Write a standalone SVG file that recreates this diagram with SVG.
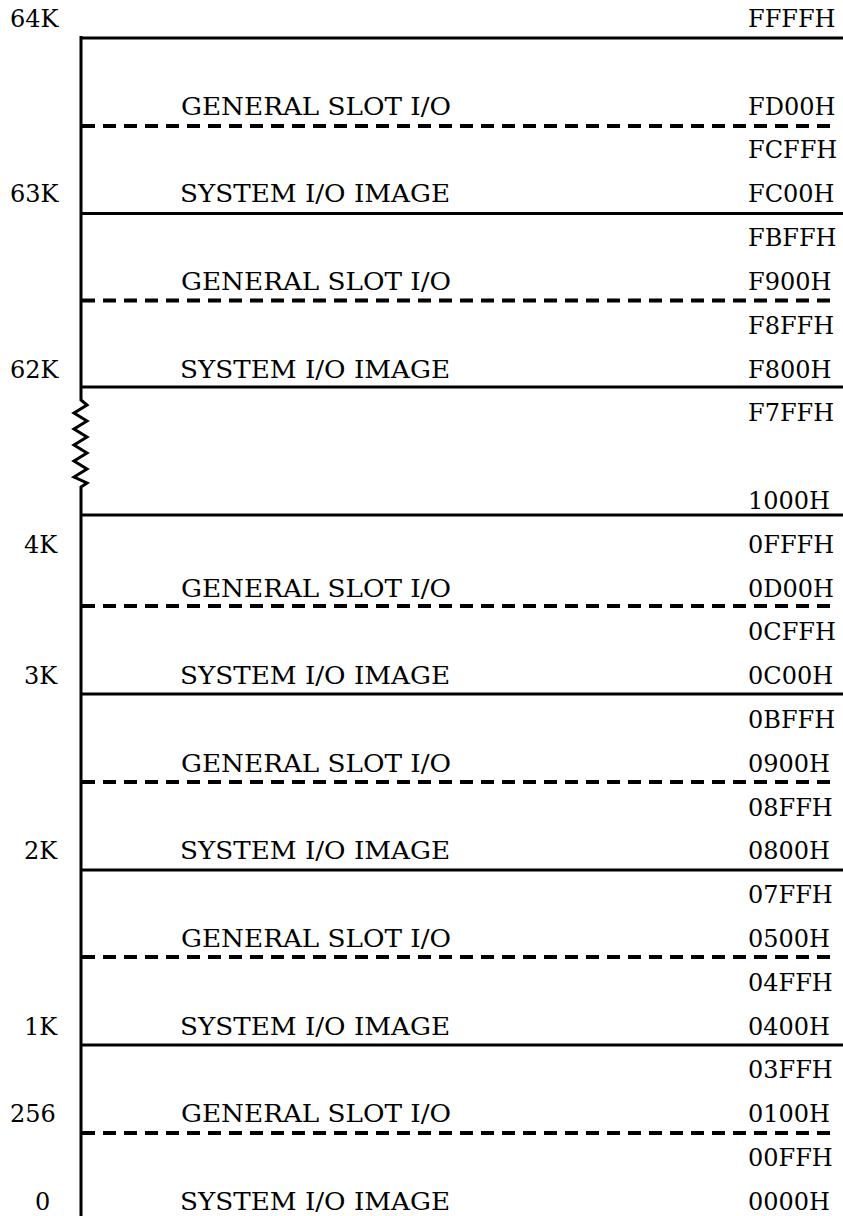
<svg xmlns="http://www.w3.org/2000/svg" width="843" height="1216" viewBox="0 0 843 1216">
<style>
text{font-family:"DejaVu Serif","Liberation Serif",serif;font-size:24px;fill:#000}
.s{stroke:#000;stroke-width:3;fill:none}
.d{stroke:#000;stroke-width:4;fill:none;stroke-dasharray:13 8}
.m{}
</style>
<rect width="843" height="1216" fill="#fff"/>
<g id="connectors">
<path class="s" d="M81,36V400L87,405L74,413L87,421L74,429L87,437L74,445L87,453L74,461L87,469L74,477L87,483L81,487V1216"/>
<path class="s" d="M80,38H843"/>
<path class="d" d="M82,126H836"/>
<path class="s" d="M80,213.5H843"/>
<path class="d" d="M82,300.5H836"/>
<path class="s" d="M80,387H843"/>
<path class="s" d="M80,515H843"/>
<path class="d" d="M82,606H836"/>
<path class="s" d="M80,694H843"/>
<path class="d" d="M82,782H836"/>
<path class="s" d="M80,870H843"/>
<path class="d" d="M82,957H836"/>
<path class="s" d="M80,1045H843"/>
<path class="d" d="M82,1133H836"/>
</g>
<g id="left-labels">
<text x="10" y="27">64K</text>
<text x="10" y="202.2">63K</text>
<text x="10" y="377.5">62K</text>
<text x="24" y="552.7">4K</text>
<text x="24" y="684.2">3K</text>
<text x="24" y="859.4">2K</text>
<text x="24" y="1034.6">1K</text>
<text x="10" y="1122.3">256</text>
<text x="35" y="1209.9">0</text>
</g>
<g id="region-fd00">
<text x="181" y="114.6" textLength="270" lengthAdjust="spacingAndGlyphs">GENERAL SLOT I/O</text>
</g>
<g id="region-fc00">
<text x="180" y="202.2" textLength="270" lengthAdjust="spacingAndGlyphs">SYSTEM I/O IMAGE</text>
</g>
<g id="region-f900">
<text x="181" y="289.9" textLength="270" lengthAdjust="spacingAndGlyphs">GENERAL SLOT I/O</text>
</g>
<g id="region-f800">
<text x="180" y="377.5" textLength="270" lengthAdjust="spacingAndGlyphs">SYSTEM I/O IMAGE</text>
</g>
<g id="region-0d00">
<text x="181" y="596.5" textLength="270" lengthAdjust="spacingAndGlyphs">GENERAL SLOT I/O</text>
</g>
<g id="region-0c00">
<text x="180" y="684.2" textLength="270" lengthAdjust="spacingAndGlyphs">SYSTEM I/O IMAGE</text>
</g>
<g id="region-0900">
<text x="181" y="771.8" textLength="270" lengthAdjust="spacingAndGlyphs">GENERAL SLOT I/O</text>
</g>
<g id="region-0800">
<text x="180" y="859.4" textLength="270" lengthAdjust="spacingAndGlyphs">SYSTEM I/O IMAGE</text>
</g>
<g id="region-0500">
<text x="181" y="947" textLength="270" lengthAdjust="spacingAndGlyphs">GENERAL SLOT I/O</text>
</g>
<g id="region-0400">
<text x="180" y="1034.6" textLength="270" lengthAdjust="spacingAndGlyphs">SYSTEM I/O IMAGE</text>
</g>
<g id="region-0100">
<text x="181" y="1122.3" textLength="270" lengthAdjust="spacingAndGlyphs">GENERAL SLOT I/O</text>
</g>
<g id="region-0000">
<text x="180" y="1209.9" textLength="270" lengthAdjust="spacingAndGlyphs">SYSTEM I/O IMAGE</text>
</g>
<g id="addresses">
<text x="748" y="27">FFFFH</text>
<text x="748" y="114.6">FD00H</text>
<text x="748" y="158.4">FCFFH</text>
<text x="748" y="202.2">FC00H</text>
<text x="748" y="246.1">FBFFH</text>
<text x="748" y="289.9">F900H</text>
<text x="748" y="333.7">F8FFH</text>
<text x="748" y="377.5">F800H</text>
<text x="748" y="421.3">F7FFH</text>
<text x="748" y="508.9">1000H</text>
<text x="748" y="552.7">0FFFH</text>
<text x="748" y="596.5">0D00H</text>
<text x="748" y="640.3">0CFFH</text>
<text x="748" y="684.2">0C00H</text>
<text x="748" y="728">0BFFH</text>
<text x="748" y="771.8">0900H</text>
<text x="748" y="815.6">08FFH</text>
<text x="748" y="859.4">0800H</text>
<text x="748" y="903.2">07FFH</text>
<text x="748" y="947">0500H</text>
<text x="748" y="990.8">04FFH</text>
<text x="748" y="1034.6">0400H</text>
<text x="748" y="1078.4">03FFH</text>
<text x="748" y="1122.3">0100H</text>
<text x="748" y="1166.1">00FFH</text>
<text x="748" y="1209.9">0000H</text>
</g>
</svg>
